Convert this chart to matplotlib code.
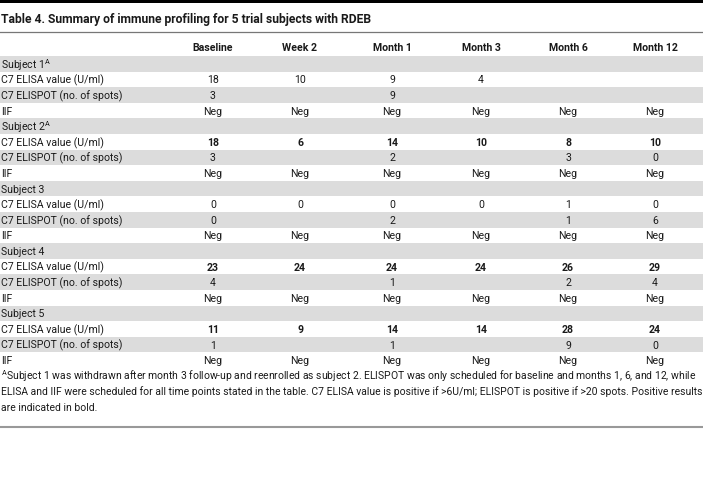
import matplotlib
matplotlib.use("Agg")
import matplotlib.pyplot as plt

plt.rcParams['font.family'] = ['Roboto', 'DejaVu Sans']
plt.rcParams['mathtext.fontset'] = 'custom'
plt.rcParams['mathtext.rm'] = 'Roboto'
plt.rcParams['mathtext.bf'] = 'Roboto:bold'

title = "Table 4. Summary of immune profiling for 5 trial subjects with RDEB"
columns = ["Baseline", "Week 2", "Month 1", "Month 3", "Month 6", "Month 12"]
subjects = ["Subject 1$^{\\mathrm{A}}$", "Subject 2$^{\\mathrm{A}}$", "Subject 3", "Subject 4", "Subject 5"]
row_labels = ["C7 ELISA value (U/ml)", "C7 ELISPOT (no. of spots)", "IIF"]

elisa = [
    ["18", "10", "9", "4", "", ""],
    ["18", "6", "14", "10", "8", "10"],
    ["0", "0", "0", "0", "1", "0"],
    ["23", "24", "24", "24", "26", "29"],
    ["11", "9", "14", "14", "28", "24"],
]
elisa_bold = [False, True, False, True, True]
elispot = [
    ["3", "", "9", "", "", ""],
    ["3", "", "2", "", "3", "0"],
    ["0", "", "2", "", "1", "6"],
    ["4", "", "1", "", "2", "4"],
    ["1", "", "1", "", "9", "0"],
]
iif = [["Neg"] * 6 for _ in range(5)]

footnote = [
    "$^{\\mathrm{A}}$Subject 1 was withdrawn after month 3 follow-up and reenrolled as subject 2. ELISPOT was only scheduled for baseline and months 1, 6, and 12, while",
    "ELISA and IIF were scheduled for all time points stated in the table. C7 ELISA value is positive if >6U/ml; ELISPOT is positive if >20 spots. Positive results",
    "are indicated in bold.",
]

W, H = 703, 481
fig = plt.figure(figsize=(W / 100, H / 100), dpi=100)
ax = fig.add_axes([0, 0, 1, 1])
ax.set_xlim(0, W)
ax.set_ylim(H, 0)
ax.axis('off')

col_x = [213, 300, 392, 481, 568, 655]
fs = 7.6
gray = '#dcdcdc'
txt = '#1a1a1a'

# top bar and title
ax.axhspan(0, 4, color='black', lw=0)
ax.text(1, 20, title, fontsize=8.7, fontweight='bold', va='center', ha='left', color=txt)
ax.axhline(33, color='#777777', lw=0.9)

# header
for x, c in zip(col_x, columns):
    ax.text(x, 48, c, fontsize=fs, fontweight='bold', ha='center', va='center', color=txt)

top = 57.0
rh = 15.6
r = 0
for s in range(len(subjects)):
    block = [(subjects[s], None, False),
             (row_labels[0], elisa[s], elisa_bold[s]),
             (row_labels[1], elispot[s], False),
             (row_labels[2], iif[s], False)]
    for label, vals, bold in block:
        y0 = top + r * rh
        if r % 2 == 0:
            ax.axhspan(y0, y0 + rh, color=gray, lw=0)
        yc = y0 + rh / 2
        ax.text(1, yc, label, fontsize=fs, ha='left', va='center', color=txt)
        if vals is not None:
            for x, v in zip(col_x, vals):
                ax.text(x, yc, v, fontsize=fs, ha='center', va='center', color=txt,
                        fontweight='bold' if bold else 'normal')
        r += 1

# footnote
for i, line in enumerate(footnote):
    ax.text(1, 376 + i * 16, line, fontsize=fs - 0.1, ha='left', va='center', color=txt)

ax.axhline(428, color='#999999', lw=1.5)

fig.savefig("out.png", dpi=100)
